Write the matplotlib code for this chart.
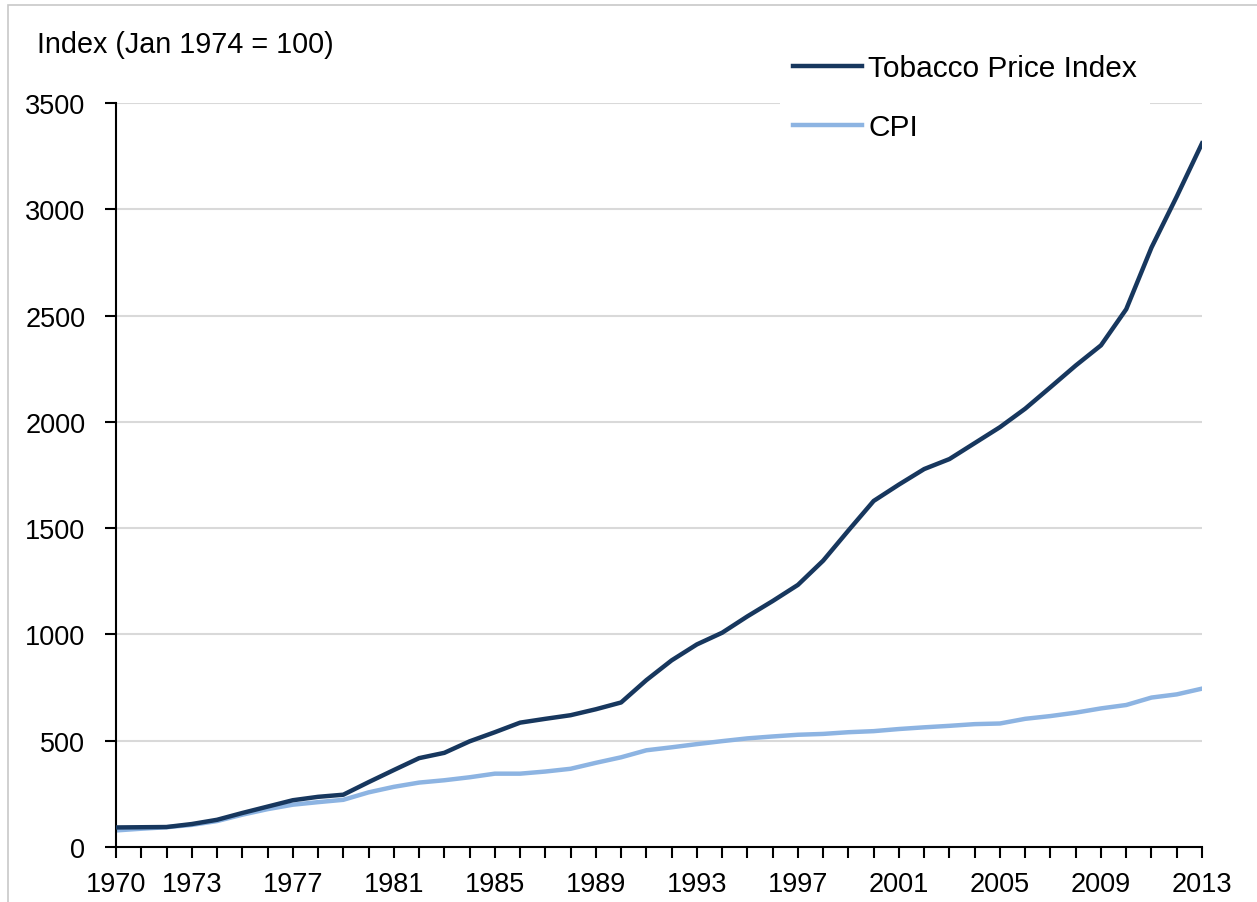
import matplotlib
matplotlib.use('Agg')
import matplotlib.pyplot as plt
from matplotlib.patches import Rectangle

years = list(range(1970, 2014))
tobacco = [92, 93, 94, 108, 128, 160, 190, 220, 236, 246,
           305, 362, 418, 443, 497, 540, 585, 603, 620, 648,
           680, 785, 878, 953, 1008, 1085, 1157, 1233, 1347, 1489,
           1628, 1705, 1778, 1825, 1900, 1975, 2062, 2163, 2265, 2360,
           2530, 2820, 3060, 3310]
cpi = [78, 86, 93, 104, 122, 152, 178, 199, 211, 222,
       257, 283, 303, 314, 328, 345, 345, 355, 368, 396,
       422, 455, 469, 484, 498, 511, 520, 528, 532, 540,
       545, 555, 563, 570, 578, 581, 603, 616, 632, 652,
       668, 703, 718, 745]
labelled_years = [1970, 1973, 1977, 1981, 1985, 1989, 1993, 1997, 2001, 2005, 2009, 2013]
y_ticks = [0, 500, 1000, 1500, 2000, 2500, 3000, 3500]

plt.rcParams['font.family'] = ['Liberation Sans', 'DejaVu Sans']
fs = 19.5

W, H = 1257, 903
fig = plt.figure(figsize=(W / 100, H / 100), dpi=100)
ax = fig.add_axes([116 / W, 1 - 848 / H, (1202 - 116) / W, (848 - 104) / H])

# thin frame round the picture
fig.patches.append(Rectangle((8 / W, -0.05), 1.2, 1 - 6 / H + 0.05, transform=fig.transFigure,
                             fill=False, edgecolor='#c8c8c8', linewidth=1.2))

ax.plot(years, tobacco, color='#17375E', linewidth=3.2, label='Tobacco Price Index',
        solid_joinstyle='round', zorder=3)
ax.plot(years, cpi, color='#8DB4E2', linewidth=3.2, label='CPI',
        solid_joinstyle='round', zorder=2)

ax.set_xlim(1970, 2013)
ax.set_ylim(0, 3500)
ax.set_xticks(years)
ax.set_xticklabels([str(y) if y in labelled_years else '' for y in years], fontsize=fs)
ax.set_yticks(y_ticks)
ax.set_yticklabels([str(v) for v in y_ticks], fontsize=fs)
ax.tick_params(axis='x', direction='out', length=8, width=1.5, pad=9)
ax.tick_params(axis='y', direction='out', length=8, width=1.5, pad=14)

for v in y_ticks[1:]:
    ax.axhline(v, color='#d9d9d9', linewidth=1.5, zorder=1)

for side in ['top', 'right']:
    ax.spines[side].set_visible(False)
for side in ['left', 'bottom']:
    ax.spines[side].set_linewidth(1.5)

fig.text(37 / W, 1 - 45 / H, 'Index (Jan 1974 = 100)', fontsize=20.7, va='center', ha='left')

leg = ax.legend(loc='upper left', bbox_to_anchor=(780 / W, 1 - 42 / H), bbox_transform=fig.transFigure,
                fontsize=21.5, frameon=True, framealpha=1, facecolor='white', edgecolor='none',
                handlelength=2.3, handletextpad=0.2, labelspacing=1.04, borderpad=0.45,
                borderaxespad=0, fancybox=False)
leg.set_zorder(5)

fig.savefig('out.png', dpi=100)
